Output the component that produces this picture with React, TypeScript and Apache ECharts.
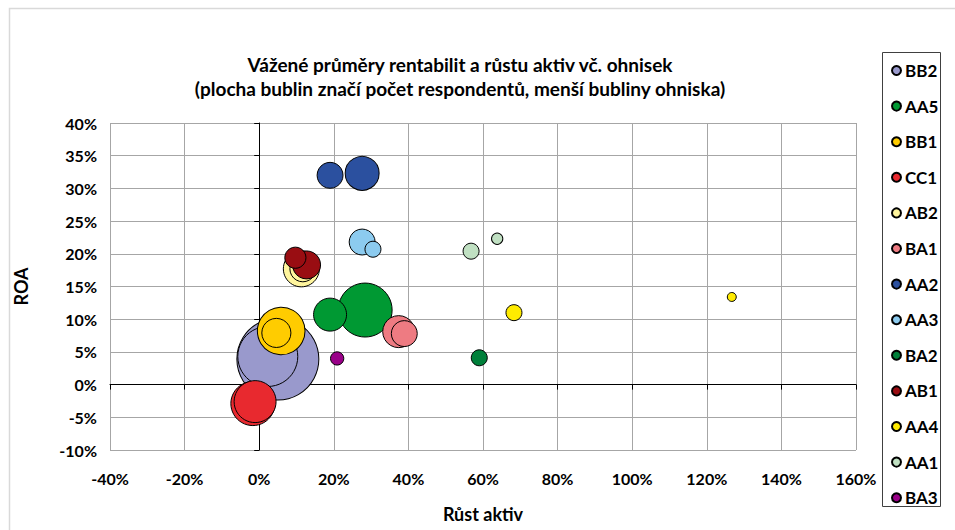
import React, { useEffect, useRef } from "react";
import * as echarts from "echarts";

// [růst aktiv %, ROA %, počet respondentů]
const seriesNames = ["BB2", "AA5", "BB1", "CC1", "AB2", "BA1", "AA2", "AA3", "BA2", "AB1", "AA4", "AA1", "BA3"];
const seriesColors = ["#9999cc", "#009933", "#ffcc00", "#e8292f", "#fff59d", "#ee7b82", "#2b509f", "#8ccbef", "#00803a", "#990d12", "#ffeb00", "#c0e0c2", "#990088"];

const BB2 = [[5.0, 3.9, 420], [2.3, 4.3, 225]];
const AA5 = [[28.4, 11.4, 182], [19.0, 10.7, 68]];
const BB1 = [[5.9, 8.2, 142], [4.6, 7.9, 53]];
const CC1 = [[-1.7, -2.9, 121], [-1.1, -2.6, 110]];
const AB2 = [[11.3, 17.7, 81], [11.7, 17.7, 42]];
const BA1 = [[37.4, 8.1, 64], [38.9, 7.8, 42]];
const AA2 = [[27.6, 32.3, 72], [19.0, 32.0, 42]];
const AA3 = [[27.6, 21.8, 42], [30.5, 20.7, 16]];
const BA2 = [[59.0, 4.1, 16]];
const AB1 = [[12.7, 18.3, 49], [9.7, 19.4, 28]];
const AA4 = [[68.3, 11.0, 16], [126.7, 13.4, 5]];
const AA1 = [[56.8, 20.4, 16], [63.8, 22.3, 8]];
const BA3 = [[20.9, 4.0, 11]];

const seriesData = [BB2, AA5, BB1, CC1, AB2, BA1, AA2, AA3, BA2, AB1, AA4, AA1, BA3];

const xTicks = { min: -40, max: 160, interval: 20 };
const yTicks = { min: -10, max: 40, interval: 5 };

const titleLines = [
  "Vážené průměry rentabilit a růstu aktiv vč. ohnisek",
  "(plocha bublin značí počet respondentů, menší bubliny ohniska)",
];
const xName = "Růst aktiv";
const yName = "ROA";

const FONT = "Lato, 'Open Sans', sans-serif";

export default function App() {
  const ref = useRef<HTMLDivElement>(null);
  useEffect(() => {
    if (!ref.current) return;
    const chart = echarts.init(ref.current, undefined, { renderer: "svg" });
    const labelStyle = { color: "#000", fontFamily: FONT, fontWeight: "bold" as const, fontSize: 16 };
    chart.setOption({
      animation: false,
      backgroundColor: "#fff",
      grid: { left: 110, right: 99, top: 123, bottom: 80 },
      xAxis: [
        {
          type: "value",
          ...xTicks,
          axisLine: { show: false, onZero: false },
          axisTick: { show: false },
          splitLine: { show: true, lineStyle: { color: "#a6a6a6", width: 1 } },
          axisLabel: { ...labelStyle, margin: 20, formatter: "{value}%" },
          name: xName,
          nameLocation: "middle",
          nameGap: 55,
          nameTextStyle: { ...labelStyle, fontSize: 18 },
        },
        {
          type: "value",
          ...xTicks,
          position: "bottom",
          axisLine: { show: true, onZero: true, onZeroAxisIndex: 0, lineStyle: { color: "#000", width: 1 } },
          axisTick: { show: true, length: 5, lineStyle: { color: "#000" } },
          splitLine: { show: false },
          axisLabel: { show: false },
        },
      ],
      yAxis: [
        {
          type: "value",
          ...yTicks,
          axisLine: { show: false, onZero: false },
          axisTick: { show: false },
          splitLine: { show: true, lineStyle: { color: "#a6a6a6", width: 1 } },
          axisLabel: { ...labelStyle, margin: 13, formatter: "{value}%" },
          name: yName,
          nameLocation: "middle",
          nameGap: 80,
          nameTextStyle: { ...labelStyle, fontSize: 18 },
        },
        {
          type: "value",
          ...yTicks,
          position: "left",
          axisLine: { show: true, onZero: true, onZeroAxisIndex: 0, lineStyle: { color: "#000", width: 1 } },
          axisTick: { show: true, length: 5, lineStyle: { color: "#000" } },
          splitLine: { show: false },
          axisLabel: { show: false },
        },
      ],
      legend: {
        orient: "vertical",
        left: 891,
        top: 62,
        padding: 0,
        itemWidth: 9,
        itemHeight: 9,
        itemGap: 18.6,
        icon: "circle",
        data: seriesNames,
        textStyle: { ...labelStyle, fontSize: 17, lineHeight: 16, padding: [0, 0, 0, -1] },
      },
      graphic: [
        {
          type: "rect",
          shape: { x: 9.5, y: 8.5, width: 960, height: 540 },
          style: { fill: "none", stroke: "#d9d9d9", lineWidth: 1.5 },
          silent: true,
        },
        {
          type: "rect",
          shape: { x: 882.5, y: 52.5, width: 58, height: 454 },
          style: { fill: "none", stroke: "#404040", lineWidth: 1 },
          silent: true,
        },
        {
          type: "text",
          x: 460,
          y: 52,
          style: {
            text: titleLines.join("\n"),
            textAlign: "center",
            textVerticalAlign: "top",
            fill: "#000",
            font: `bold 19px ${FONT}`,
            lineHeight: 24,
          },
        },
      ],
      series: seriesNames.map((name, i) => ({
        name,
        type: "scatter",
        xAxisIndex: 0,
        yAxisIndex: 0,
        data: seriesData[i],
        symbol: "circle",
        symbolSize: (v: number[]) => 4 * Math.sqrt(v[2]),
        itemStyle: { color: seriesColors[i], borderColor: "#000", borderWidth: 1, opacity: 1 },
        emphasis: { disabled: true },
      })),
    });
    return () => chart.dispose();
  }, []);
  return (
    <div
      ref={ref}
      style={{ position: "fixed", left: 0, top: 0, width: 955, height: 530 }}
    />
  );
}
